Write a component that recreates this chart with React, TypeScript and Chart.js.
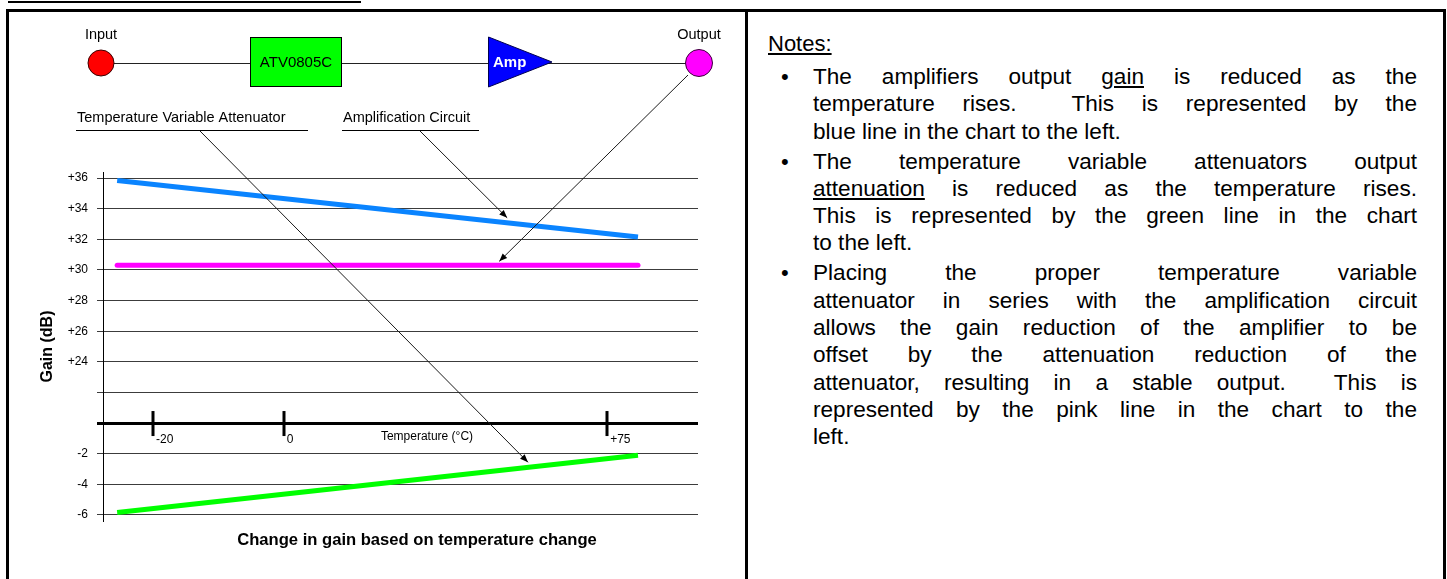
import React, { useEffect, useRef } from "react";
import { Chart, registerables } from "chart.js";

Chart.register(...registerables);

// ---- data ----
const TEMPERATURE_C = [-40, 85];
const AMP_GAIN_DB = [35.85, 32.15];
const OUTPUT_GAIN_DB = [30.3, 30.3];
const ATTENUATOR_DB = [-5.85, -2.1];

// broken gain axis: each gridline is one step on the drawn axis
const GAIN_TICK_VALUES = [-6, -4, -2, 0, 22, 24, 26, 28, 30, 32, 34, 36];
const GAIN_TICK_LABELS = ["-6", "-4", "-2", "", "", "+24", "+26", "+28", "+30", "+32", "+34", "+36"];
const ZERO_DB_INDEX = 3;

// temperature axis drawn along the 0 dB line
const TEMP_RANGE = [-43.4, 99.4];
const TEMP_TICK_LABELS = ["-20", "0", "+75"];
const TEMP_TICK_AT = [-31.4, 0, 77.6];
const TEMP_TITLE_AT = 23.3;

// arrow targets (temperature along each series)
const ARROW_AMP_AT = 53.6;
const ARROW_OUTPUT_AT = 51.7;
const ARROW_ATTEN_AT = 58.6;

const FONT = "'Liberation Sans', Arial, sans-serif";

function gainToAxis(v: number): number {
  const t = GAIN_TICK_VALUES;
  if (v <= t[0]) return (v - t[0]) / (t[1] - t[0]);
  for (let i = 0; i < t.length - 1; i++) {
    if (v >= t[i] && v <= t[i + 1]) return i + (v - t[i]) / (t[i + 1] - t[i]);
  }
  const n = t.length - 1;
  return n + (v - t[n]) / (t[n] - t[n - 1]);
}

function seriesAt(values: number[], temp: number): number {
  const [t0, t1] = TEMPERATURE_C;
  const f = (temp - t0) / (t1 - t0);
  return values[0] + (values[1] - values[0]) * f;
}

function toPoints(values: number[]) {
  return TEMPERATURE_C.map((t, i) => ({ x: t, y: gainToAxis(values[i]) }));
}

function arrow(ctx: CanvasRenderingContext2D, x0: number, y0: number, x1: number, y1: number) {
  ctx.save();
  ctx.strokeStyle = "#1a1a1a";
  ctx.fillStyle = "#000";
  ctx.lineWidth = 1;
  ctx.beginPath();
  ctx.moveTo(x0, y0);
  ctx.lineTo(x1, y1);
  ctx.stroke();
  const a = Math.atan2(y1 - y0, x1 - x0);
  const L = 8;
  const W = 3.2;
  ctx.beginPath();
  ctx.moveTo(x1, y1);
  ctx.lineTo(x1 - L * Math.cos(a) + W * Math.sin(a), y1 - L * Math.sin(a) - W * Math.cos(a));
  ctx.lineTo(x1 - L * Math.cos(a) - W * Math.sin(a), y1 - L * Math.sin(a) + W * Math.cos(a));
  ctx.closePath();
  ctx.fill();
  ctx.restore();
}

const diagramPlugin = {
  id: "diagram",
  afterDraw(chart: any) {
    const ctx: CanvasRenderingContext2D = chart.ctx;
    const xs = chart.scales.x;
    const ys = chart.scales.y;
    ctx.save();

    // temperature axis ticks and labels
    const axisY = ys.getPixelForValue(ZERO_DB_INDEX);
    ctx.fillStyle = "#000";
    ctx.font = `12px ${FONT}`;
    ctx.textBaseline = "middle";
    ctx.textAlign = "left";
    TEMP_TICK_AT.forEach((t, i) => {
      const px = xs.getPixelForValue(t);
      ctx.fillRect(Math.round(px) - 1.5, axisY - 12, 3, 25);
      ctx.fillText(TEMP_TICK_LABELS[i], px + 3, axisY + 17);
    });
    ctx.fillText("Temperature (\u00b0C)", xs.getPixelForValue(TEMP_TITLE_AT), axisY + 14);

    // bottom caption
    ctx.font = `bold 16.6px ${FONT}`;
    ctx.textAlign = "center";
    ctx.fillText("Change in gain based on temperature change", 417, 540);

    // block diagram
    ctx.strokeStyle = "#222";
    ctx.lineWidth = 1;
    ctx.beginPath();
    ctx.moveTo(101, 63.5);
    ctx.lineTo(699, 63.5);
    ctx.stroke();

    ctx.beginPath();
    ctx.arc(101, 63, 13, 0, Math.PI * 2);
    ctx.fillStyle = "#ff0000";
    ctx.fill();
    ctx.strokeStyle = "#3a0000";
    ctx.stroke();

    ctx.fillStyle = "#00ff00";
    ctx.fillRect(250, 37, 92, 50);
    ctx.strokeStyle = "#000";
    ctx.strokeRect(250.5, 37.5, 91, 49);

    ctx.beginPath();
    ctx.moveTo(488.5, 37);
    ctx.lineTo(552, 62);
    ctx.lineTo(488.5, 87);
    ctx.closePath();
    ctx.fillStyle = "#0000ff";
    ctx.fill();
    ctx.strokeStyle = "#000050";
    ctx.stroke();

    ctx.beginPath();
    ctx.arc(699, 63, 13.5, 0, Math.PI * 2);
    ctx.fillStyle = "#ff00ff";
    ctx.fill();
    ctx.strokeStyle = "#3a003a";
    ctx.stroke();

    ctx.fillStyle = "#000";
    ctx.font = `15px ${FONT}`;
    ctx.textAlign = "center";
    ctx.fillText("ATV0805C", 296, 63);
    ctx.font = `14.5px ${FONT}`;
    ctx.fillText("Input", 101, 35);
    ctx.fillText("Output", 699, 35);

    ctx.fillStyle = "#fff";
    ctx.font = `bold 15px ${FONT}`;
    ctx.textAlign = "left";
    ctx.fillText("Amp", 493, 63);

    ctx.fillStyle = "#000";
    ctx.font = `14.5px ${FONT}`;
    ctx.fillText("Temperature Variable Attenuator", 77, 118);
    ctx.fillText("Amplification Circuit", 343, 118);
    ctx.fillRect(76, 130, 232, 1);
    ctx.fillRect(342, 130, 137, 1);

    // arrows to the series
    const target = (vals: number[], t: number, gap: number) => [
      xs.getPixelForValue(t),
      ys.getPixelForValue(gainToAxis(seriesAt(vals, t))) - gap,
    ];
    const [ax, ay] = target(ATTENUATOR_DB, ARROW_ATTEN_AT, 5);
    arrow(ctx, 200, 131, ax, ay);
    const [bx, by] = target(AMP_GAIN_DB, ARROW_AMP_AT, 5);
    arrow(ctx, 420, 131, bx, by);
    const [mx, my] = target(OUTPUT_GAIN_DB, ARROW_OUTPUT_AT, 4);
    arrow(ctx, 688, 75, mx, my);

    ctx.restore();
  },
};

function ChartPanel() {
  const ref = useRef<HTMLCanvasElement | null>(null);
  useEffect(() => {
    if (!ref.current) return;
    const chart = new Chart(ref.current, {
      type: "line",
      data: {
        datasets: [
          {
            label: "Amplifier gain",
            data: toPoints(AMP_GAIN_DB),
            borderColor: "#0a84ff",
            borderWidth: 5,
            pointRadius: 0,
            borderCapStyle: "butt",
          },
          {
            label: "Output",
            data: toPoints(OUTPUT_GAIN_DB),
            borderColor: "#ff00ff",
            borderWidth: 5,
            pointRadius: 0,
            borderCapStyle: "round",
          },
          {
            label: "Attenuator",
            data: toPoints(ATTENUATOR_DB),
            borderColor: "#00ff00",
            borderWidth: 5,
            pointRadius: 0,
            borderCapStyle: "butt",
          },
        ],
      },
      options: {
        animation: false,
        responsive: false,
        layout: { padding: { left: 0, top: 172, right: 47, bottom: 58 } },
        plugins: { legend: { display: false }, tooltip: { enabled: false }, title: { display: false } },
        scales: {
          x: { type: "linear", display: false, min: TEMP_RANGE[0], max: TEMP_RANGE[1] },
          y: {
            type: "linear",
            min: -0.2,
            max: GAIN_TICK_VALUES.length - 1 + 0.2,
            afterBuildTicks: (s: any) => {
              s.ticks = GAIN_TICK_VALUES.map((_, i) => ({ value: i }));
            },
            afterFit: (s: any) => {
              s.width = 103;
            },
            ticks: {
              autoSkip: false,
              callback: (_v: any, i: number) => GAIN_TICK_LABELS[i],
              color: "#000",
              font: { family: FONT, size: 12 },
              padding: 9,
            },
            grid: {
              color: (c: any) => (c.tick && c.tick.value === ZERO_DB_INDEX ? "#000" : "#3c3c3c"),
              lineWidth: (c: any) => (c.tick && c.tick.value === ZERO_DB_INDEX ? 3 : 1),
              tickLength: 6,
              tickColor: (c: any) => (c.tick && c.tick.value === ZERO_DB_INDEX ? "#000" : "#3c3c3c"),
              tickWidth: (c: any) => (c.tick && c.tick.value === ZERO_DB_INDEX ? 3 : 1),
            },
            border: { display: true, color: "#000", width: 1 },
            title: {
              display: true,
              text: "Gain (dB)",
              color: "#000",
              font: { family: FONT, size: 16, weight: "bold" },
              padding: { top: 38, bottom: 0 },
            },
          },
        },
      },
      plugins: [diagramPlugin],
    } as any);
    return () => chart.destroy();
  }, []);
  return (
    <canvas
      ref={ref}
      width={745}
      height={579}
      style={{ position: "absolute", left: 0, top: 0, width: 745, height: 579 }}
    />
  );
}

const LINE_H = 27.3;

function Line({ children, last }: { children: React.ReactNode; last?: boolean }) {
  return (
    <div
      style={{
        whiteSpace: "nowrap",
        textAlign: last ? "left" : "justify",
        textAlignLast: last ? "left" : "justify",
        height: LINE_H,
        lineHeight: `${LINE_H}px`,
      }}
    >
      {children}
    </div>
  );
}

function Bullet({ children, mt }: { children: React.ReactNode; mt: number }) {
  return (
    <div style={{ position: "relative", marginTop: mt, marginLeft: 45, width: 604 }}>
      <span style={{ position: "absolute", left: -32, top: 0, lineHeight: `${LINE_H}px`, fontSize: 22 }}>
        {"\u2022"}
      </span>
      {children}
    </div>
  );
}

export default function App() {
  const black = "#000";
  return (
    <div
      style={{
        position: "fixed",
        left: 0,
        top: 0,
        width: 1447,
        height: 579,
        background: "#fff",
        overflow: "hidden",
        fontFamily: FONT,
      }}
    >
      <ChartPanel />
      <div style={{ position: "absolute", left: 8, top: 1, width: 353, height: 2, background: black }} />
      <div style={{ position: "absolute", left: 6, top: 9, width: 1440, height: 3, background: black }} />
      <div style={{ position: "absolute", left: 6, top: 9, width: 3, height: 570, background: black }} />
      <div style={{ position: "absolute", left: 745, top: 9, width: 3, height: 570, background: black }} />
      <div style={{ position: "absolute", left: 1443, top: 9, width: 3, height: 570, background: black }} />

      <div style={{ position: "absolute", left: 768, top: 30, fontSize: 22.6, color: "#000" }}>
        <div style={{ lineHeight: `${LINE_H}px`, height: LINE_H, fontSize: 22 }}>
          <span style={{ textDecoration: "underline" }}>Notes:</span>
        </div>
        <Bullet mt={5.7}>
          <Line>
            The amplifiers output <u>gain</u> is reduced as the
          </Line>
          <Line>temperature rises.{"\u00a0 "}This is represented by the</Line>
          <Line last>blue line in the chart to the left.</Line>
        </Bullet>
        <Bullet mt={2.7}>
          <Line>The temperature variable attenuators output</Line>
          <Line>
            <u>attenuation</u> is reduced as the temperature rises.
          </Line>
          <Line>This is represented by the green line in the chart</Line>
          <Line last>to the left.</Line>
        </Bullet>
        <Bullet mt={2.7}>
          <Line>Placing the proper temperature variable</Line>
          <Line>attenuator in series with the amplification circuit</Line>
          <Line>allows the gain reduction of the amplifier to be</Line>
          <Line>offset by the attenuation reduction of the</Line>
          <Line>attenuator, resulting in a stable output.{"\u00a0 "}This is</Line>
          <Line>represented by the pink line in the chart to the</Line>
          <Line last>left.</Line>
        </Bullet>
      </div>
    </div>
  );
}
